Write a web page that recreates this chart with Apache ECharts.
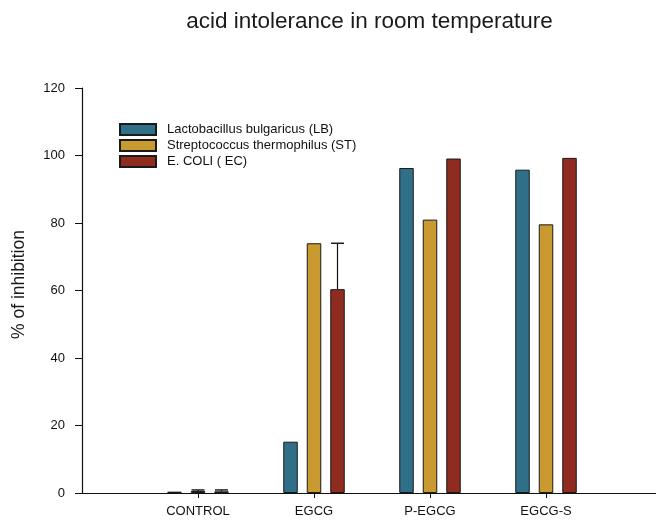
<!DOCTYPE html>
<html>
<head>
<meta charset="utf-8">
<script src="https://cdn.jsdelivr.net/npm/echarts@6/dist/echarts.min.js"></script>
<style>html,body{margin:0;padding:0;background:#fff}#c{width:656px;height:527px}</style>
</head>
<body>
<div id="c"></div>
<script>
var categories = ['CONTROL', 'EGCG', 'P-EGCG', 'EGCG-S'];
var seriesNames = ['Lactobacillus bulgaricus (LB)', 'Streptococcus thermophilus (ST)', 'E. COLI ( EC)'];
var lbValues = [0.4, 15.2, 96.3, 95.8];
var stValues = [0.6, 74.0, 81.0, 79.6];
var ecValues = [0.5, 60.4, 99.1, 99.3];
var lbErrors = [0, 0, 0, 0];
var stErrors = [0.3, 0, 0, 0];
var ecErrors = [0.4, 13.6, 0, 0];
var yTicks = [0, 20, 40, 60, 80, 100, 120];
var colors = ['#2f6f88', '#c99a2f', '#8f2b1f'];

var axisCats = [''].concat(categories).concat(['']);
var values = [lbValues, stValues, ecValues];
var errors = [lbErrors, stErrors, ecErrors];
var BAR_W = 14.5, BAR_GAP = 9;

function toData(arr) {
  return arr.map(function (v, i) { return [i + 1, v]; });
}

var series = [];
values.forEach(function (vals, s) {
  series.push({
    name: seriesNames[s],
    type: 'bar',
    barWidth: BAR_W,
    barGap: (BAR_GAP / BAR_W * 100) + '%',
    data: toData(vals),
    itemStyle: { color: colors[s], borderColor: '#1a1a1a', borderWidth: 1 },
    z: 2
  });
});
values.forEach(function (vals, s) {
  var errData = vals.map(function (v, i) { return [i + 1, v, errors[s][i]]; }).filter(function (d) { return d[2] > 0; });
  series.push({
    type: 'custom',
    name: 'err' + s,
    data: errData,
    z: 3,
    renderItem: function (params, api) {
      var x = api.value(0), v = api.value(1), e = api.value(2);
      var p0 = api.coord([x, v]);
      var p1 = api.coord([x, v + e]);
      var off = (s - 1) * (BAR_W + BAR_GAP);
      var cx = p0[0] + off;
      var half = 6.5;
      return {
        type: 'group',
        children: [
          { type: 'line', shape: { x1: cx, y1: p0[1], x2: cx, y2: p1[1] }, style: { stroke: '#111', lineWidth: 1.2 } },
          { type: 'line', shape: { x1: cx - half, y1: p1[1], x2: cx + half, y2: p1[1] }, style: { stroke: '#111', lineWidth: 1.4 } }
        ]
      };
    }
  });
});

var chart = echarts.init(document.getElementById('c'), null, { renderer: 'canvas' });
chart.setOption({
  animation: false,
  backgroundColor: '#fff',
  textStyle: { fontFamily: 'Liberation Sans, Arial, sans-serif' },
  title: {
    text: 'acid intolerance in room temperature',
    left: 364.5,
    textAlign: 'center',
    top: 5,
    textStyle: { fontSize: 22.5, fontWeight: 'normal', color: '#1a1a1a' }
  },
  legend: {
    data: seriesNames,
    orient: 'vertical',
    left: 119,
    top: 123,
    padding: 0,
    itemWidth: 36,
    itemHeight: 11,
    itemGap: 3,
    icon: 'rect',
    textStyle: { fontSize: 13, color: '#111', padding: [0, 0, 0, 6] }
  },
  grid: { left: 82, right: -6, top: 88, bottom: 34, outerBoundsMode: 'none', containLabel: false },
  xAxis: {
    type: 'category',
    data: axisCats,
    boundaryGap: false,
    axisLine: { lineStyle: { color: '#111', width: 1.2 } },
    axisTick: {
      length: 5,
      interval: function (i, v) { return v !== ''; },
      lineStyle: { color: '#111' }
    },
    axisLabel: {
      fontSize: 13, color: '#111', margin: 12,
      interval: function (i, v) { return v !== ''; }
    },
    splitLine: { show: false }
  },
  yAxis: {
    type: 'value',
    min: yTicks[0],
    max: yTicks[yTicks.length - 1],
    interval: 20,
    name: '% of inhibition',
    nameLocation: 'middle',
    nameRotate: 90,
    nameGap: 54,
    nameTextStyle: { fontSize: 17.5, color: '#1a1a1a', padding: [0, 0, 0, 12] },
    axisLine: { show: true, lineStyle: { color: '#111', width: 1.2 } },
    axisTick: { show: true, length: 7, lineStyle: { color: '#111' } },
    axisLabel: { fontSize: 13, color: '#111', margin: 17 },
    splitLine: { show: false }
  },
  series: series
});
</script>
</body>
</html>
